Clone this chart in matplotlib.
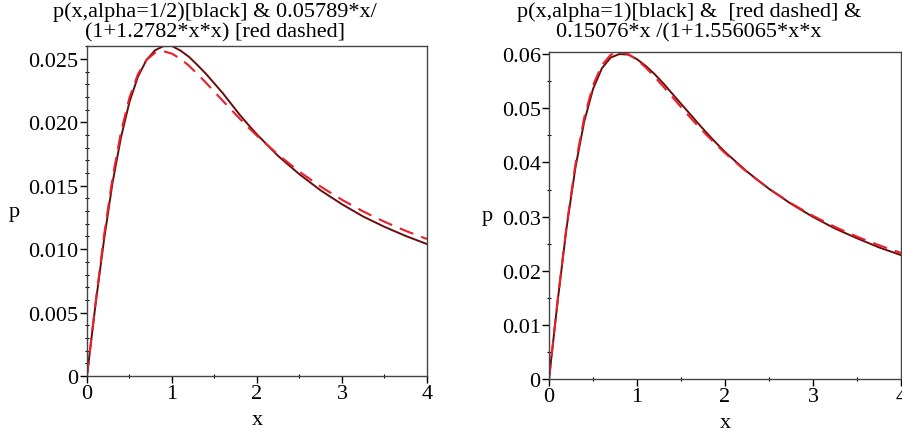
import numpy as np
import matplotlib.pyplot as plt
from matplotlib.ticker import MultipleLocator

plt.rcParams['font.family'] = ['Liberation Serif', 'DejaVu Serif']

# sample points along x
x = [0, 0.1, 0.2, 0.3, 0.4, 0.5, 0.6, 0.7, 0.8, 0.9, 1.0, 1.1, 1.2, 1.3, 1.4,
     1.5, 1.6, 1.7, 1.8, 1.9, 2.0, 2.25, 2.5, 2.75, 3.0, 3.25, 3.5, 3.75, 4.0]

# left panel, alpha = 1/2
p_half = [0, 0.0056, 0.0107, 0.0152, 0.0188, 0.0216, 0.0236, 0.0249, 0.02567,
          0.02600, 0.02601, 0.02565, 0.02516, 0.02451, 0.02382, 0.02305,
          0.02228, 0.02142, 0.02057, 0.01979, 0.01904, 0.01734, 0.01590,
          0.01463, 0.01354, 0.01257, 0.01176, 0.01104, 0.01040]
fit_half = [0, 0.00572, 0.01102, 0.01558, 0.01922, 0.02194, 0.02379, 0.02492,
            0.02547, 0.02560, 0.02541, 0.02500, 0.02446, 0.02381, 0.02312,
            0.02240, 0.02168, 0.02097, 0.02027, 0.01959, 0.01894, 0.01744,
            0.01610, 0.01493, 0.01389, 0.01297, 0.01216, 0.01144, 0.01080]

# right panel, alpha = 1
p_one = [0, 0.01465, 0.02799, 0.03907, 0.04758, 0.05357, 0.05738, 0.05938,
         0.06003, 0.05993, 0.05908, 0.05783, 0.05632, 0.05460, 0.05272,
         0.05084, 0.04900, 0.04712, 0.04532, 0.04359, 0.04194, 0.03831,
         0.03514, 0.03237, 0.02994, 0.02780, 0.02600, 0.02431, 0.02289]
fit_one = [0, 0.01485, 0.02839, 0.03967, 0.04828, 0.05427, 0.05798, 0.05988,
           0.06043, 0.06003, 0.05898, 0.05753, 0.05582, 0.05400, 0.05212,
           0.05024, 0.04840, 0.04662, 0.04492, 0.04329, 0.04174, 0.03821,
           0.03514, 0.03247, 0.03014, 0.02810, 0.02630, 0.02471, 0.02329]

titles = ["p(x,alpha=1/2)[black] & 0.05789*x/\n(1+1.2782*x*x) [red dashed]",
          "p(x,alpha=1)[black] &  [red dashed] &\n0.15076*x /(1+1.556065*x*x"]

dark = "#6a0c0c"
red = "#e8202a"
fs = 16

fig = plt.figure(figsize=(9.03, 4.35), dpi=100)
ax1 = fig.add_axes([0.0963, 0.1333, 0.3765, 0.7586])
ax2 = fig.add_axes([0.608, 0.1264, 0.3898, 0.752])


def panel(ax, black, fit, ymajor, yminor, fmt, title, tx, ylx):
    ax.plot(x, black, color=dark, lw=1.4)
    ax.plot(x, fit, color=red, lw=1.5, dashes=(7, 4))
    top = max(max(black), max(fit))
    ax.set_xlim(0, 4)
    ax.xaxis.set_major_locator(MultipleLocator(1))
    ax.xaxis.set_minor_locator(MultipleLocator(0.5))
    ax.yaxis.set_minor_locator(MultipleLocator(yminor))
    ticks = np.arange(0, top, ymajor)
    ax.set_yticks(ticks)
    ax.set_yticklabels(["0" if v == 0 else fmt % v for v in ticks])
    ax.set_ylim(0, top)
    ax.tick_params(which='major', direction='out', length=5, width=1,
                   labelsize=fs, pad=1, top=False, right=False)
    ax.tick_params(which='minor', direction='inout', length=3, width=0.8,
                   top=False, right=False)
    for s in ax.spines.values():
        s.set_color("#444444")
        s.set_linewidth(1.0)
    ax.set_xlabel("x", fontsize=fs, labelpad=5)
    pos = ax.get_position()
    fig.text(ylx, (pos.y0 + pos.y1) / 2, "p", fontsize=fs,
             ha='center', va='center')
    fig.text(tx, 0.995, title, fontsize=fs, ha='center', va='top',
             linespacing=1.1)


panel(ax1, p_half, fit_half, 0.005, 0.001, "%.3f", titles[0], 0.238, 0.016)
panel(ax2, p_one, fit_one, 0.01, 0.005, "%.2f", titles[1], 0.763, 0.540)

fig.savefig("out.png", dpi=100)
